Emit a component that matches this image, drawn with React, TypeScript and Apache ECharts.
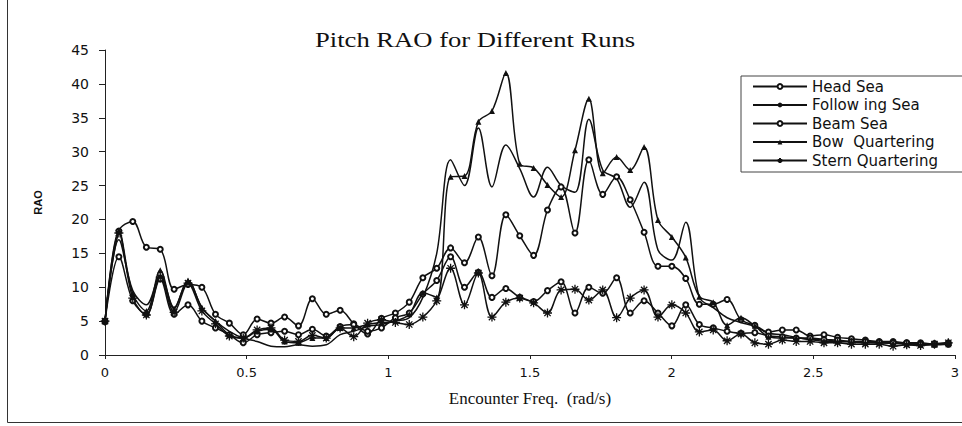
import React, { useEffect, useRef } from "react";
import * as echarts from "echarts";

const freq = [
  0, 0.049, 0.098, 0.146, 0.195, 0.244, 0.293, 0.342, 0.39, 0.439, 0.488, 0.537, 0.586, 0.634, 0.683, 0.732,
  0.781, 0.83, 0.878, 0.927, 0.976, 1.025, 1.074, 1.122, 1.171, 1.22, 1.269, 1.318, 1.366, 1.415, 1.464,
  1.513, 1.562, 1.61, 1.659, 1.708, 1.757, 1.806, 1.854, 1.903, 1.952, 2.001, 2.05, 2.098, 2.147, 2.196,
  2.245, 2.294, 2.342, 2.391, 2.44, 2.489, 2.538, 2.586, 2.635, 2.684, 2.733, 2.782, 2.83, 2.879, 2.928, 2.977,
];

const headSea = [
  4.9, 18.3, 19.7, 15.9, 15.6, 9.7, 10.4, 10.0, 6.0, 4.7, 3.0, 5.3, 4.7, 5.6, 4.3, 8.3,
  6.0, 6.6, 4.6, 3.1, 5.4, 6.2, 7.8, 11.4, 12.8, 15.8, 13.6, 17.4, 11.7, 20.7, 17.6,
  14.7, 21.4, 24.8, 18.0, 28.8, 23.7, 26.3, 22.9, 18.1, 13.1, 13.1, 11.3, 7.5, 7.5, 8.2,
  5.2, 4.4, 3.4, 3.7, 3.7, 2.8, 3.0, 2.6, 2.4, 2.2, 2.0, 2.0, 1.8, 1.8, 1.6, 1.6,
];

const followingSea = [
  5.0, 17.0, 9.5, 7.4, 11.8, 7.0, 11.0, 7.0, 5.0, 3.5, 2.5, 2.0, 1.3, 1.2, 1.5, 1.3,
  1.5, 3.0, 3.5, 4.2, 4.5, 5.0, 5.5, 8.5, 15.0, 28.8, 25.0, 33.5, 24.8, 31.0, 27.5,
  23.3, 27.7, 25.0, 24.0, 34.8, 27.3, 26.0, 21.8, 25.5, 15.5, 14.0, 19.6, 8.5, 7.0, 5.5,
  4.8, 4.2, 3.2, 3.0, 2.6, 2.3, 2.3, 2.0, 2.0, 1.9, 1.8, 1.8, 1.7, 1.6, 1.6, 1.6,
];

const beamSea = [
  5.0, 14.5, 8.0, 6.0, 11.2, 6.0, 7.4, 5.0, 4.0, 3.0, 1.8, 3.0, 3.3, 3.5, 3.0, 3.8,
  2.8, 4.2, 4.5, 3.5, 4.0, 5.5, 6.2, 9.0, 11.0, 14.5, 10.0, 12.2, 8.5, 9.8, 8.5,
  7.9, 9.5, 10.8, 6.2, 10.0, 9.1, 11.4, 6.2, 8.0, 6.2, 4.3, 7.4, 4.5, 4.0, 3.5,
  3.2, 3.3, 2.8, 2.7, 2.5, 2.5, 2.3, 2.2, 2.0, 2.0, 1.9, 1.8, 1.8, 1.6, 1.7, 1.8,
];

const bowQuartering = [
  5.0, 18.3, 9.0, 6.5, 12.5, 6.8, 11.0, 7.0, 5.0, 3.0, 2.5, 3.5, 3.8, 2.0, 1.8, 2.5,
  2.5, 4.0, 4.0, 4.5, 4.8, 5.0, 6.0, 9.2, 8.5, 26.3, 26.4, 34.4, 36.0, 41.6, 28.2,
  27.6, 25.1, 23.3, 30.2, 37.8, 26.8, 29.2, 27.3, 30.7, 19.9, 17.4, 14.4, 8.6, 7.8, 4.4,
  5.5, 4.3, 2.7, 2.5, 2.5, 2.3, 2.0, 2.0, 1.9, 1.8, 1.8, 1.7, 1.6, 1.5, 1.5, 1.6,
];

const sternQuartering = [
  5.0, 18.0, 8.4, 5.9, 11.5, 6.3, 10.6, 6.5, 4.6, 2.8, 2.5, 3.7, 4.0, 2.2, 2.0, 2.9,
  2.5, 4.0, 2.7, 4.7, 5.2, 4.8, 4.5, 5.6, 8.0, 12.8, 7.4, 12.1, 5.6, 7.8, 8.4,
  7.7, 6.2, 9.6, 9.7, 8.1, 9.6, 5.5, 8.4, 9.6, 5.6, 7.4, 6.2, 3.4, 3.7, 2.1,
  3.1, 1.8, 1.6, 2.2, 2.0, 2.0, 1.8, 1.8, 1.6, 1.6, 1.6, 1.3, 1.5, 1.4, 1.6, 1.8,
];

const seriesNames = ["Head Sea", "Follow ing Sea", "Beam Sea", "Bow  Quartering", "Stern Quartering"];
const xTicks = ["0", "0.5", "1", "1.5", "2", "2.5", "3"];
const titleText = "Pitch RAO for Different Runs";

const asterisk = "path://M0,5L10,5M5,0L5,10M1.5,1.5L8.5,8.5M8.5,1.5L1.5,8.5";

export default function App() {
  const ref = useRef<HTMLDivElement>(null);
  useEffect(() => {
    if (!ref.current) return;
    const chart = echarts.init(ref.current, null, { renderer: "svg" });
    const pair = (ys: number[]) => freq.map((f, i) => [f, ys[i]]);
    const base = {
      type: "line",
      smooth: 0.35,
      lineStyle: { color: "#111", width: 1.5 },
    };
    chart.setOption({
      animation: false,
      backgroundColor: "#fff",
      legend: {
        orient: "vertical",
        left: 741,
        top: 76,
        itemWidth: 54,
        itemHeight: 6,
        itemGap: 1.5,
        padding: [2, 40, 3, 11],
        borderColor: "#444",
        borderWidth: 1,
        data: seriesNames,
        textStyle: { fontFamily: "DejaVu Sans", fontSize: 15, lineHeight: 17, color: "#111" },
      },
      grid: { left: 105, right: 4, top: 50, bottom: 71, containLabel: false },
      xAxis: {
        type: "value",
        min: 0,
        max: 3,
        interval: 0.5,
        name: "Encounter Freq.  (rad/s)",
        nameLocation: "middle",
        nameGap: 35,
        nameTextStyle: { fontFamily: "Liberation Serif", fontSize: 17, color: "#111" },
        axisLine: { lineStyle: { color: "#222", width: 1 } },
        axisTick: { show: true, length: 4, inside: false, lineStyle: { color: "#222" } },
        splitLine: { show: false },
        axisLabel: {
          fontFamily: "DejaVu Sans",
          fontSize: 13,
          color: "#111",
          margin: 11,
          formatter: (v: number) => xTicks[Math.round(v * 2)] ?? String(v),
        },
      },
      yAxis: {
        type: "value",
        min: 0,
        max: 45,
        interval: 5,
        name: "RAO",
        nameLocation: "middle",
        nameGap: 62,
        nameRotate: 90,
        nameTextStyle: { fontFamily: "Liberation Sans", fontSize: 11, fontWeight: "bold", color: "#111" },
        axisLine: { show: true, lineStyle: { color: "#222", width: 1 } },
        axisTick: { show: true, length: 6, lineStyle: { color: "#222" } },
        splitLine: { show: false },
        axisLabel: { fontFamily: "DejaVu Sans", fontSize: 14, color: "#111", margin: 16 },
      },
      graphic: [
        {
          type: "text",
          x: 315,
          y: 28,
          scaleX: 1.21,
          style: {
            text: titleText,
            font: '22px "Liberation Serif"',
            fill: "#111",
            textAlign: "left",
            textVerticalAlign: "top",
          },
        },
        { type: "line", shape: { x1: 7.5, y1: 0, x2: 7.5, y2: 422.5 }, style: { stroke: "#333", lineWidth: 1 } },
        { type: "line", shape: { x1: 7.5, y1: 422.5, x2: 962, y2: 422.5 }, style: { stroke: "#333", lineWidth: 1 } },
      ],
      series: [
        { ...base, name: seriesNames[0], data: pair(headSea), symbol: "emptyCircle", symbolSize: 5, itemStyle: { color: "#111", borderWidth: 1 } },
        { ...base, name: seriesNames[1], data: pair(followingSea), symbol: "none", itemStyle: { color: "#111" } },
        { ...base, name: seriesNames[2], data: pair(beamSea), symbol: "emptyCircle", symbolSize: 5, itemStyle: { color: "#111", borderWidth: 1 } },
        { ...base, name: seriesNames[3], data: pair(bowQuartering), symbol: "triangle", symbolSize: 6, itemStyle: { color: "#111" } },
        { ...base, name: seriesNames[4], data: pair(sternQuartering), symbol: asterisk, symbolSize: 9, itemStyle: { color: "#111", borderColor: "#111", borderWidth: 1.3 } },
      ],
    });
    return () => chart.dispose();
  }, []);
  return <div ref={ref} style={{ position: "fixed", left: 0, top: 0, width: 962, height: 426 }} />;
}
